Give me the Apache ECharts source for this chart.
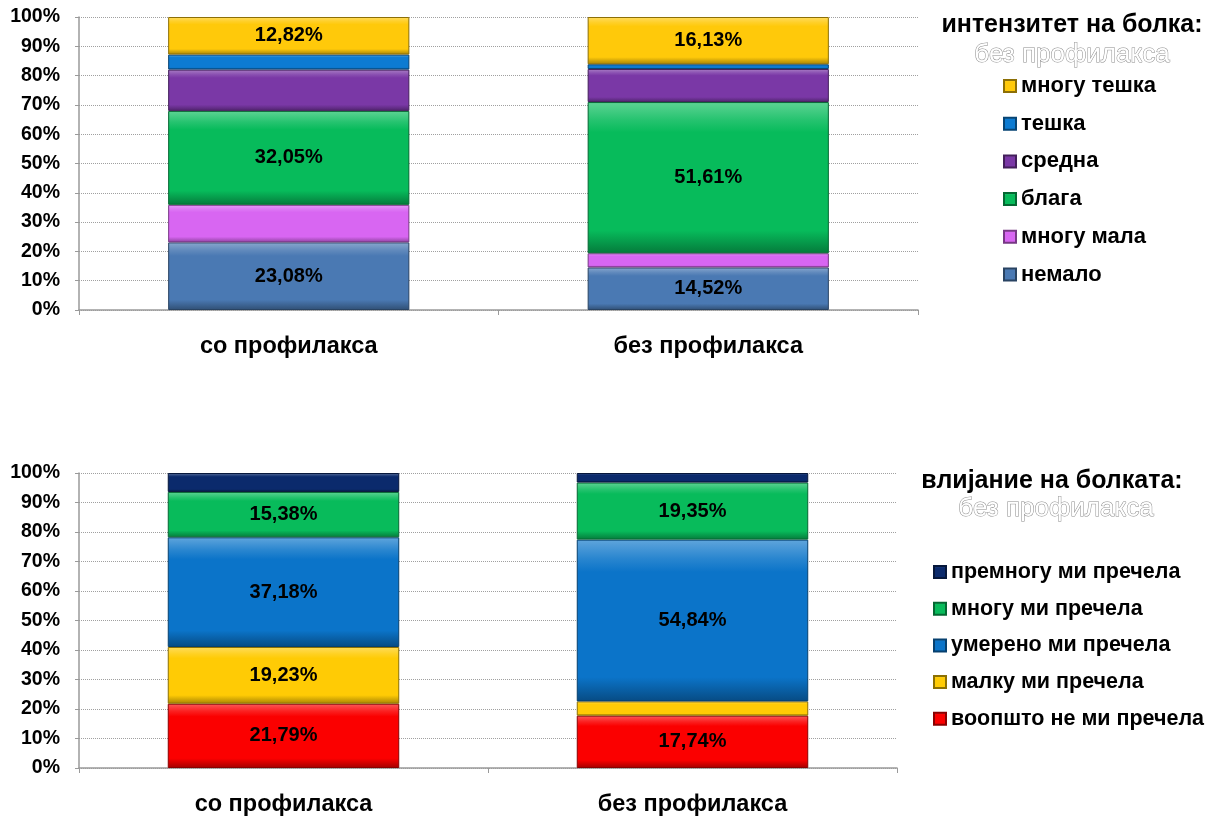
<!DOCTYPE html>
<html>
<head>
<meta charset="utf-8">
<script src="https://cdn.jsdelivr.net/npm/echarts@6/dist/echarts.min.js"></script>
<style>
  html, body { margin: 0; padding: 0; background: #ffffff; }
  #chart { width: 1219px; height: 817px; }
</style>
</head>
<body>
<div id="chart"></div>
<script>
// Categories shared by both stacked bar charts
const groups = ['со профилакса', 'без профилакса'];
const yTicks = [0, 10, 20, 30, 40, 50, 60, 70, 80, 90, 100];

// Pain intensity (percent of respondents), bottom segment first
const intensityNames = ['немало', 'многу мала', 'блага', 'средна', 'тешка', 'многу тешка'];
const nemalo      = [23.08, 14.52];
const mnoguMala   = [12.82, 4.84];
const blaga       = [32.05, 51.61];
const sredna      = [14.10, 11.29];
const teshka      = [5.13, 1.61];
const mnoguTeshka = [12.82, 16.13];
const intensityLabelled = ['немало', 'блага', 'многу тешка'];

// Impact of the pain (percent of respondents), bottom segment first
const impactNames = ['воопшто не ми пречела', 'малку ми пречела', 'умерено ми пречела', 'многу ми пречела', 'премногу ми пречела'];
const voopshto = [21.79, 17.74];
const malku    = [19.23, 4.84];
const umereno  = [37.18, 54.84];
const mnogu    = [15.38, 19.35];
const premnogu = [6.41, 3.23];

const FONT = '"Liberation Sans", Arial, sans-serif';

const intensityColors = ['#4a79b3', '#d866f2', '#07bb5b', '#7a38a6', '#0d7bd2', '#ffc90a'];
const impactColors = ['#fb0000', '#ffcb05', '#0b74c9', '#08bb5b', '#0b2a6c'];

function shade(hex, amt) {
  const n = parseInt(hex.slice(1), 16);
  let r = (n >> 16) & 255, g = (n >> 8) & 255, b = n & 255;
  const f = c => Math.max(0, Math.min(255, Math.round(amt > 0 ? c + (255 - c) * amt : c * (1 + amt))));
  return 'rgb(' + f(r) + ',' + f(g) + ',' + f(b) + ')';
}

// Bevelled look: light upper edge, darker lower edge
function bevel(hex) {
  return {
    type: 'linear', x: 0, y: 0, x2: 0, y2: 1,
    colorStops: [
      { offset: 0, color: shade(hex, 0.35) },
      { offset: 0.12, color: shade(hex, 0.12) },
      { offset: 0.2, color: hex },
      { offset: 0.85, color: hex },
      { offset: 1, color: shade(hex, -0.35) }
    ]
  };
}

function fmt(v) {
  return v.toFixed(2).replace('.', ',') + '%';
}

function makeSeries(names, values, colors, gridIdx, barWidth, showFn) {
  return names.map((name, i) => ({
    name: name,
    type: 'bar',
    stack: 'g' + gridIdx,
    xAxisIndex: gridIdx,
    yAxisIndex: gridIdx,
    barWidth: barWidth,
    data: values[i].map(v => ({ value: v, label: { show: showFn(name, v) } })),
    itemStyle: {
      color: bevel(colors[i]),
      borderColor: shade(colors[i], -0.45),
      borderWidth: 1
    },
    label: {
      position: 'inside',
      color: '#000',
      fontFamily: FONT,
      fontWeight: 'bold',
      fontSize: 20,
      formatter: p => fmt(p.value)
    },
    emphasis: { disabled: true }
  }));
}

const yAxisBase = (gridIndex) => ({
  type: 'value',
  gridIndex: gridIndex,
  min: 0,
  max: 100,
  interval: 10,
  axisLine: { show: true, lineStyle: { color: '#9a9a9a', width: 1.5 } },
  axisTick: { show: true, length: 4, lineStyle: { color: '#9a9a9a' } },
  splitLine: { show: true, lineStyle: { color: '#a0a0a0', type: 'dotted', width: 1 } },
  axisLabel: {
    color: '#000', fontFamily: FONT, fontWeight: 'bold', fontSize: 19.5, margin: 19,
    formatter: v => (yTicks.includes(v) ? v + '%' : '')
  }
});

const xAxisBase = (gridIndex) => ({
  type: 'category',
  gridIndex: gridIndex,
  data: groups,
  axisLine: { show: true, lineStyle: { color: '#9a9a9a', width: 1.5 } },
  axisTick: { show: true, length: 5, lineStyle: { color: '#9a9a9a' } },
  axisLabel: { color: '#000', fontFamily: FONT, fontWeight: 'bold', fontSize: 23.5, margin: 25 }
});

const legendTextTop = { color: '#000', fontFamily: FONT, fontWeight: 'bold', fontSize: 22, lineHeight: 22 };
const legendTextBottom = { color: '#000', fontFamily: FONT, fontWeight: 'bold', fontSize: 21.5, lineHeight: 22 };

const subStyle = (x, y, text) => ({
  type: 'text', x: x, y: y,
  style: {
    text: text, font: '26px ' + FONT, fill: '#ffffff', stroke: '#8c8c8c', lineWidth: 1,
    textAlign: 'center', textVerticalAlign: 'middle'
  }
});
const headStyle = (x, y, text) => ({
  type: 'text', x: x, y: y,
  style: {
    text: text, font: 'bold 25px ' + FONT, fill: '#000',
    textAlign: 'center', textVerticalAlign: 'middle'
  }
});

const chart = echarts.init(document.getElementById('chart'), null, { renderer: 'canvas' });

const option = {
  backgroundColor: '#ffffff',
  animation: false,
  grid: [
    { left: 79, right: 301, top: 17, bottom: 507 },
    { left: 79, right: 322, top: 473, bottom: 49 }
  ],
  xAxis: [xAxisBase(0), xAxisBase(1)],
  yAxis: [yAxisBase(0), yAxisBase(1)],
  legend: [
    {
      data: intensityNames.slice().reverse(),
      orient: 'vertical', left: 998, top: 70,
      itemWidth: 12, itemHeight: 12, itemGap: 15.7,
      icon: 'rect', textStyle: legendTextTop, selectedMode: false
    },
    {
      data: impactNames.slice().reverse(),
      orient: 'vertical', left: 928, top: 556,
      itemWidth: 12, itemHeight: 12, itemGap: 14.7,
      icon: 'rect', textStyle: legendTextBottom, selectedMode: false
    }
  ],
  graphic: [
    headStyle(1072, 25, 'интензитет на болка:'),
    subStyle(1072, 55, 'без профилакса'),
    headStyle(1052, 481, 'влијание на болката:'),
    subStyle(1056, 509, 'без профилакса')
  ],
  series: [].concat(
    makeSeries(intensityNames, [nemalo, mnoguMala, blaga, sredna, teshka, mnoguTeshka],
      intensityColors, 0, '57.5%', (name) => intensityLabelled.includes(name)),
    makeSeries(impactNames, [voopshto, malku, umereno, mnogu, premnogu],
      impactColors, 1, '56.6%', (name, v) => v >= 10)
  )
};

chart.setOption(option);
</script>
</body>
</html>
